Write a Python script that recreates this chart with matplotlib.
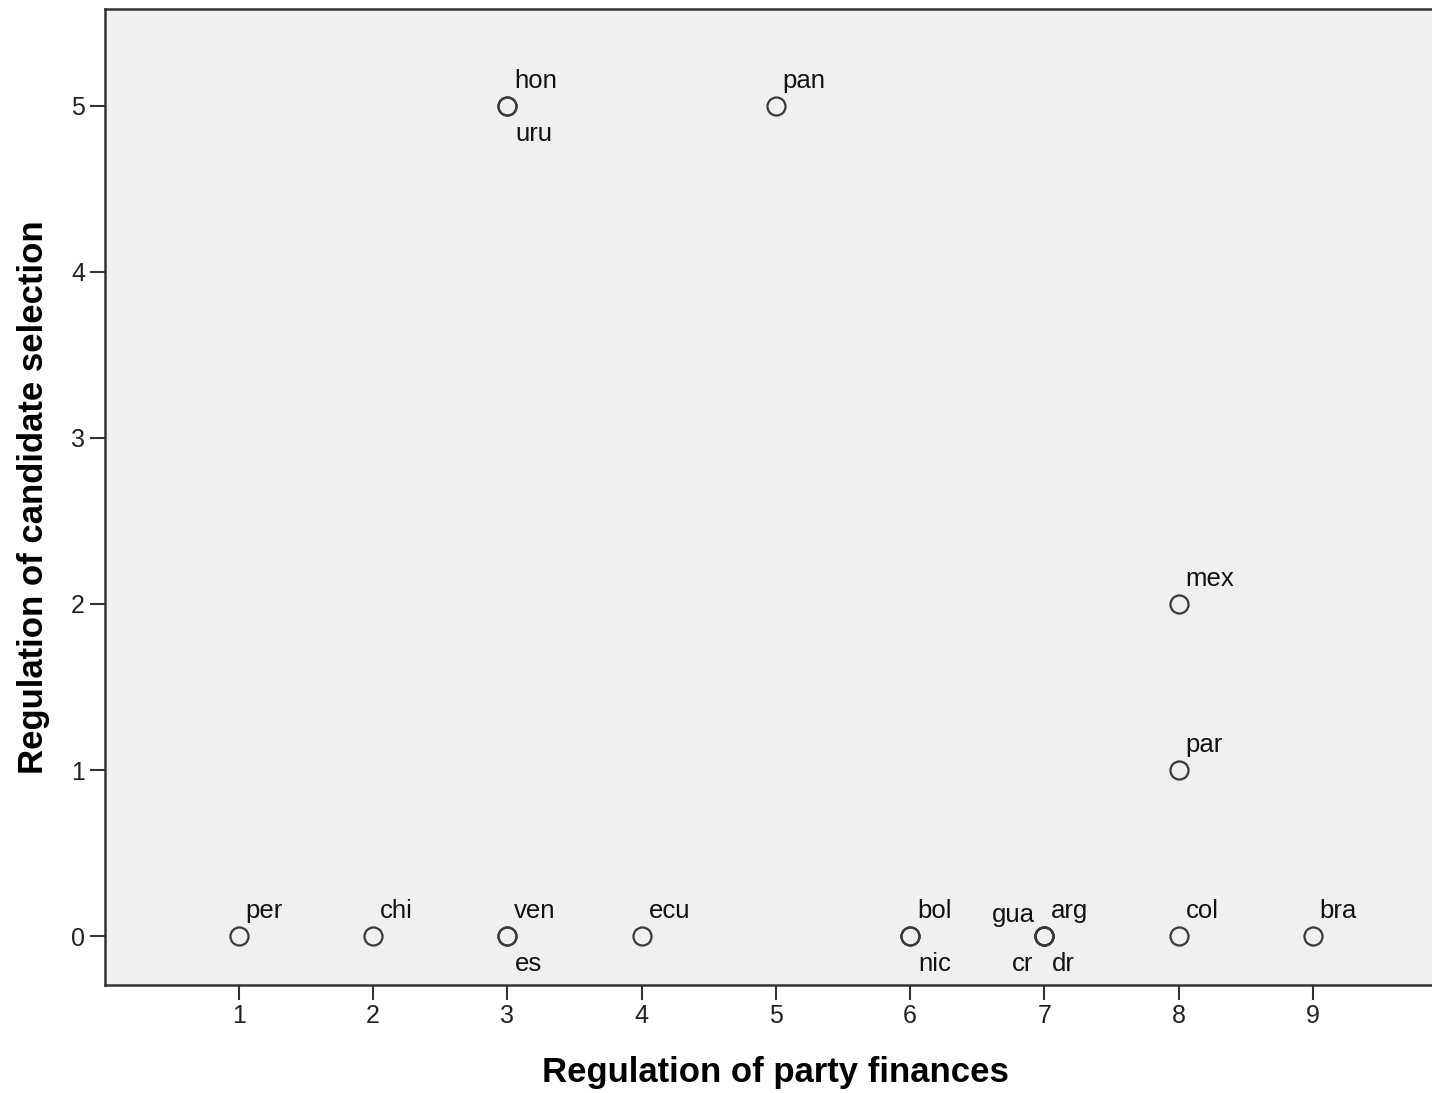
import matplotlib
matplotlib.use('Agg')
import matplotlib.pyplot as plt

# Data
countries = ['per', 'chi', 'ven', 'es', 'ecu', 'bol', 'nic', 'gua', 'arg', 'cr', 'dr',
             'col', 'bra', 'par', 'mex', 'hon', 'uru', 'pan']
party_finances = [1, 2, 3, 3, 4, 6, 6, 7, 7, 7, 7, 8, 9, 8, 8, 3, 3, 5]
candidate_selection = [0, 0, 0, 0, 0, 0, 0, 0, 0, 0, 0, 0, 0, 1, 2, 5, 5, 5]
# where the label sits relative to its point
label_pos = ['ur', 'ur', 'ur', 'lr', 'ur', 'ur', 'lr', 'ul', 'ur', 'll', 'lr',
             'ur', 'ur', 'ur', 'ur', 'ur', 'lr', 'ur']

x_ticks = [1, 2, 3, 4, 5, 6, 7, 8, 9]
y_ticks = [0, 1, 2, 3, 4, 5]

plt.rcParams['font.family'] = ['Liberation Sans', 'DejaVu Sans']

fig = plt.figure(figsize=(14.32, 10.93), dpi=100)
# the plot frame runs a little past the right edge of the picture
ax = fig.add_axes([0.073, 0.0988, 0.9375, 0.893])
ax.set_facecolor('#F0F0F0')

ax.plot(party_finances, candidate_selection, linestyle='none', marker='o',
        ms=13, mfc='none', mec='#3a3a3a', mew=1.6, clip_on=False)

offsets = {
    'ur': ((7, 18), 'left'),
    'lr': ((8, -35), 'left'),
    'ul': ((-9, 14), 'right'),
    'll': ((-11, -35), 'right'),
}
for name, x, y, pos in zip(countries, party_finances, candidate_selection, label_pos):
    off, ha = offsets[pos]
    ax.annotate(name, (x, y), xytext=off, textcoords='offset pixels',
                ha=ha, va='baseline', fontsize=18.5, color='#111111')

ax.set_xlim(0, 10)
ax.set_ylim(-0.295, 5.584)
ax.set_xticks(x_ticks)
ax.set_yticks(y_ticks)
ax.tick_params(direction='out', length=11, width=1.5, color='#333333',
               labelsize=18, labelcolor='#222222', pad=3)

for side in ['left', 'bottom', 'top', 'right']:
    ax.spines[side].set_color('#333333')
    ax.spines[side].set_linewidth(1.8)

ax.set_xlabel('Regulation of party finances', fontsize=25, fontweight='bold', labelpad=20)
ax.set_ylabel('Regulation of candidate selection', fontsize=25, fontweight='bold', labelpad=15)

fig.savefig('out.png', dpi=100)
